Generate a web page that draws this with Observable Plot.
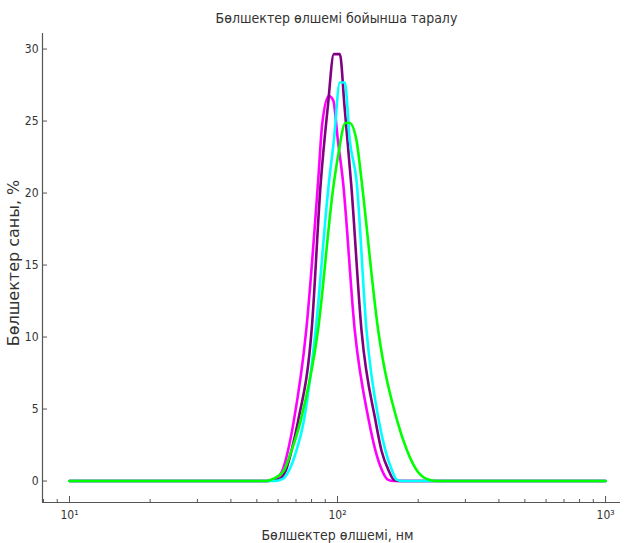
<!DOCTYPE html>
<html><head><meta charset="utf-8">
<script src="https://cdn.jsdelivr.net/npm/d3@7"></script>
<script src="https://cdn.jsdelivr.net/npm/@observablehq/plot@0.6"></script>
<style>
body{margin:0;background:#fff;}
#title{height:28px;padding-left:46px;font-family:"DejaVu Sans Condensed","Liberation Sans Narrow","DejaVu Sans",sans-serif;font-stretch:condensed;font-size:14px;color:#333;text-align:center;line-height:36px;white-space:nowrap;}
</style></head><body>
<div id="title">Бөлшектер өлшемі бойынша таралу</div>
<div id="chart"></div>
<script>
const titleText = "Бөлшектер өлшемі бойынша таралу";
const xLabel = "Бөлшектер өлшемі, нм";
const yLabel = "Бөлшектер саны, %";

const magentaSize  = [10, 55, 58.7, 62.2, 65.3, 68.7, 76.4, 84.7, 87.7, 92.8, 96.4, 100.3, 104.7, 116.0, 130.9, 138.6, 146.9, 154, 162, 1000];
const magentaValue = [0, 0, 0.15, 0.7, 2.09, 4.18, 10.44, 20.88, 24.82, 26.74, 26.44, 23.66, 20.88, 10.44, 4.18, 2.09, 0.7, 0.1, 0, 0];

const purpleSize  = [10, 55, 60, 64.0, 67.3, 71.3, 80.3, 86.4, 92.0, 96.9, 102.0, 106.2, 112.6, 122.9, 138.6, 146.0, 155.4, 162, 170, 1000];
const purpleValue = [0, 0, 0.1, 0.7, 2.09, 4.18, 10.8, 20.5, 26.0, 29.65, 29.65, 26.0, 20.5, 10.44, 4.18, 2.09, 0.7, 0.1, 0, 0];

const cyanSize  = [10, 58, 62.5, 65.8, 70.2, 74.9, 82.8, 92.6, 96.9, 102.0, 106.5, 111.1, 117.7, 128.3, 142.6, 151.0, 160.0, 166, 175, 1000];
const cyanValue = [0, 0, 0.15, 0.7, 2.09, 4.18, 10.44, 20.5, 23.66, 27.68, 27.68, 23.66, 20.88, 10.44, 4.18, 2.09, 0.7, 0.1, 0, 0];

const greenSize  = [10, 54, 57.5, 62.9, 67.3, 72.8, 84.5, 96.6, 100.3, 107.1, 110.9, 117.7, 120.1, 123.6, 141.9, 167.0, 182.0, 198.4, 215, 235, 1000];
const greenValue = [0, 0, 0.15, 0.7, 2.09, 4.18, 10.44, 20.5, 22.5, 24.86, 24.86, 23.66, 22.5, 20.5, 10.44, 4.18, 2.09, 0.7, 0.15, 0, 0];

const seriesNames  = ["Үлгі 1", "Үлгі 2", "Үлгі 3", "Үлгі 4"];
const seriesColors = ["#ff00ff", "#800080", "#00ffff", "#00ff00"];

const xMajorTicks = [10, 100, 1000];
const xMajorLabels = ["10¹", "10²", "10³"];
const xMinorTicks = [8, 9, 20, 30, 40, 50, 60, 70, 80, 90, 200, 300, 400, 500, 600, 700, 800, 900];
const yTicks = [0, 5, 10, 15, 20, 25, 30];

const xDomain = [7.93, 1137];
const yDomain = [-1.49, 31.08];

const seriesSizes = [magentaSize, purpleSize, cyanSize, greenSize];
const seriesValues = [magentaValue, purpleValue, cyanValue, greenValue];
const rows = seriesNames.flatMap((s, k) => seriesSizes[k].map((x, i) => ({series: s, x, y: seriesValues[k][i]})));

const font = '"DejaVu Sans Condensed","Liberation Sans Narrow","DejaVu Sans",sans-serif';
const axisColor = "#555";
const H = 515, mt = 5, mb = 41, W = 627, ml = 42, mr = 7;
const pxPerY = (H - mt - mb) / (yDomain[1] - yDomain[0]);
const logSpan = Math.log10(xDomain[1]) - Math.log10(xDomain[0]);
const pxPerDecade = (W - ml - mr) / logSpan;

const chart = Plot.plot({
  width: W, height: H,
  marginLeft: ml, marginRight: mr, marginTop: mt, marginBottom: mb,
  style: {fontFamily: font, fontSize: "12px", color: "#333", background: "#fff"},
  x: {type: "log", domain: xDomain},
  y: {domain: yDomain},
  color: {type: "ordinal", domain: seriesNames, range: seriesColors},
  marks: [
    Plot.ruleX([xDomain[0]], {stroke: axisColor, strokeWidth: 1.2}),
    Plot.ruleY([yDomain[0]], {stroke: axisColor, strokeWidth: 1.2}),
    Plot.ruleX(xMajorTicks, {y1: yDomain[0], y2: yDomain[0] + 6 / pxPerY, stroke: axisColor}),
    Plot.ruleX(xMinorTicks, {y1: yDomain[0], y2: yDomain[0] + 3 / pxPerY, stroke: axisColor}),
    Plot.ruleY(yTicks, {x1: xDomain[0], x2: xDomain[0] * Math.pow(10, 5 / pxPerDecade), stroke: axisColor}),
    Plot.axisX(xMajorTicks, {tickSize: 0, tickPadding: 8, tickFormat: d => xMajorLabels[xMajorTicks.indexOf(d)], label: null, fontSize: 12}),
    Plot.axisY(yTicks, {tickSize: 0, tickPadding: 4, label: null, fontSize: 12}),
    Plot.line(rows, {x: "x", y: "y", z: "series", stroke: "series", strokeWidth: 2.6, curve: "monotone-x"}),
    Plot.text([xLabel], {frameAnchor: "bottom", dx: 6, dy: 37, text: d => d, fontSize: 14, fill: "#333"}),
    Plot.text([yLabel], {frameAnchor: "left", textAnchor: "middle", rotate: -90, dx: -29, dy: -5, text: d => d, fontSize: 16, fill: "#333", fontFamily: '"DejaVu Sans",sans-serif'})
  ]
});
document.getElementById("chart").appendChild(chart);
</script>
</body></html>
